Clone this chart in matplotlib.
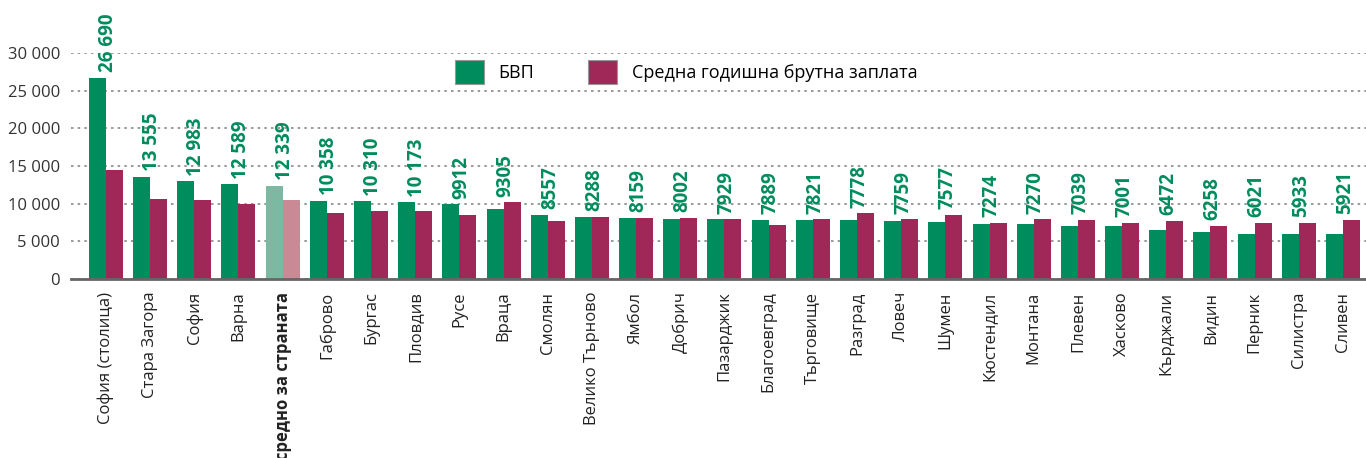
import numpy as np
import matplotlib.pyplot as plt
from matplotlib.patches import Patch

plt.rcParams['font.family'] = ['Open Sans', 'DejaVu Sans']

# Data
regions = ["София (столица)", "Стара Загора", "София", "Варна", "средно за страната",
           "Габрово", "Бургас", "Пловдив", "Русе", "Враца", "Смолян", "Велико Търново",
           "Ямбол", "Добрич", "Пазарджик", "Благоевград", "Търговище", "Разград", "Ловеч",
           "Шумен", "Кюстендил", "Монтана", "Плевен", "Хасково", "Кърджали", "Видин",
           "Перник", "Силистра", "Сливен"]
gdp = [26690, 13555, 12983, 12589, 12339, 10358, 10310, 10173, 9912, 9305, 8557, 8288,
       8159, 8002, 7929, 7889, 7821, 7778, 7759, 7577, 7274, 7270, 7039, 7001, 6472,
       6258, 6021, 5933, 5921]
wage = [14500, 10600, 10500, 10000, 10500, 8750, 9000, 9000, 8500, 10200, 7700, 8250,
        8100, 8100, 7950, 7150, 7950, 8750, 7950, 8500, 7450, 7950, 7850, 7450, 7700,
        7050, 7450, 7450, 7850]
avg_name = "средно за страната"

green = "#008c5c"
purple = "#a02858"
green_light = "#7db9a2"
purple_light = "#c98a95"

fig = plt.figure(figsize=(13.66, 4.58), dpi=100)
ax = fig.add_axes([71/1366, (458-279)/458, 1295/1366, 226/458])

x = np.arange(len(regions))
w = 0.385
gcols = [green_light if r == avg_name else green for r in regions]
pcols = [purple_light if r == avg_name else purple for r in regions]
ax.bar(x - w/2, gdp, w, color=gcols, zorder=3)
ax.bar(x + w/2, wage, w, color=pcols, zorder=3)

def fmt(v):
    return f"{v:,}".replace(",", " ") if v >= 10000 else str(v)

for i, v in enumerate(gdp):
    top = max(v, wage[i])
    ax.annotate(fmt(v), (x[i] + 0.05, top), xytext=(0, 4), textcoords="offset points",
                rotation=90, ha="center", va="bottom", color=green,
                fontsize=13.5, fontweight="bold", annotation_clip=False)

ax.set_xlim(-0.79, len(regions) - 0.48)
ax.set_ylim(0, 30000)
ax.set_yticks(range(0, 30001, 5000))
ax.set_yticklabels([f"{t:,}".replace(",", " ") for t in range(0, 30001, 5000)])
ax.yaxis.grid(True, linestyle=(0, (1.5, 2.5)), color="#888888", lw=1.2, zorder=0)
ax.set_xticks(x)
ax.set_xticklabels(regions, rotation=90, va="top")
for lbl in ax.get_xticklabels():
    if lbl.get_text() == avg_name:
        lbl.set_fontweight("bold")
ax.tick_params(axis="x", length=0, pad=9, labelsize=12, colors="#222222")
ax.tick_params(axis="y", length=0, pad=8, labelsize=12, colors="#333333")

for s in ["top", "right", "left"]:
    ax.spines[s].set_visible(False)
ax.spines["bottom"].set_color("#666666")
ax.spines["bottom"].set_linewidth(2)
ax.spines["bottom"].set_zorder(4)

handles = [Patch(facecolor=green, edgecolor="#999999", lw=0.8),
           Patch(facecolor=purple, edgecolor="#999999", lw=0.8)]
fig.legend(handles, ["БВП", "Средна годишна брутна заплата"],
           loc="center left", bbox_to_anchor=(455/1366, 1 - 72/458),
           ncol=2, frameon=False, fontsize=13, borderpad=0, borderaxespad=0,
           handlelength=1.6, handleheight=1.6, handletextpad=0.8, columnspacing=3.0)

fig.savefig("out.png", dpi=100)
